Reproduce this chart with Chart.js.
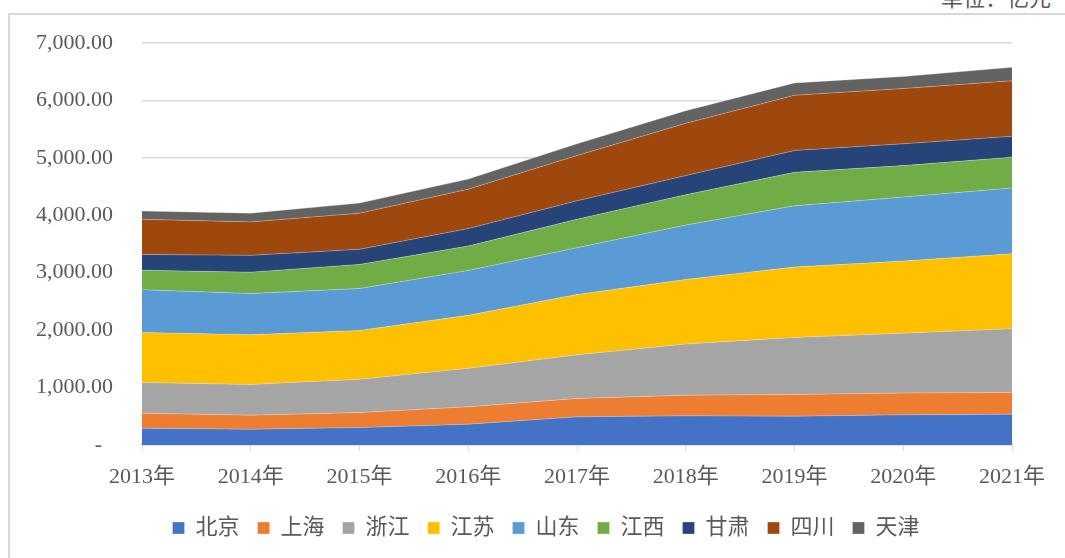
<!DOCTYPE html>
<html>
<head>
<meta charset="utf-8">
<script src="https://cdn.jsdelivr.net/npm/chart.js@4.4.1/dist/chart.umd.min.js"></script>
<style>
  html, body { margin: 0; padding: 0; background: #fff; overflow: hidden; }
  #wrap { position: relative; width: 1065px; height: 558px; }
  #frame { position: absolute; left: 8px; top: 13px; width: 1100px; height: 600px;
           border-left: 2px solid #d9d9d9; border-top: 2px solid #d9d9d9; }
  #unit { position: absolute; right: 14px; top: -20px; font: 22px "Liberation Serif", "Noto Sans CJK SC", serif; color: #595959; }
  canvas { position: absolute; left: 0; top: 0; }
</style>
</head>
<body>
<div id="wrap">
  <div id="frame"></div>
  <div id="unit">单位：亿元</div>
  <canvas id="chart" width="1065" height="558"></canvas>
</div>
<script>
// categories
const years = ['2013年', '2014年', '2015年', '2016年', '2017年', '2018年', '2019年', '2020年', '2021年'];

// series values (亿元)
const beijing  = [290, 275, 303, 362, 490, 508, 502, 525, 537];
const shanghai = [263, 245, 262, 303, 320, 360, 378, 380, 378];
const zhejiang = [535, 535, 578, 670, 760, 890, 993, 1043, 1110];
const jiangsu  = [870, 865, 852, 923, 1050, 1124, 1225, 1255, 1305];
const shandong = [747, 717, 730, 782, 815, 947, 1067, 1114, 1145];
const jiangxi  = [338, 373, 420, 425, 497, 530, 583, 548, 537];
const gansu    = [275, 292, 262, 303, 320, 332, 380, 380, 363];
const sichuan  = [612, 583, 630, 687, 788, 910, 962, 962, 967];
const tianjin  = [145, 152, 175, 175, 205, 221, 215, 210, 235];

const FONT = '"Liberation Serif", "Noto Sans CJK SC", serif';
const TEXT = '#595959';
const GRID = '#d9d9d9';

const series = [
  ['北京', beijing,  '#4472C4'],
  ['上海', shanghai, '#ED7D31'],
  ['浙江', zhejiang, '#A5A5A5'],
  ['江苏', jiangsu,  '#FFC000'],
  ['山东', shandong, '#5B9BD5'],
  ['江西', jiangxi,  '#70AD47'],
  ['甘肃', gansu,    '#264478'],
  ['四川', sichuan,  '#9E480E'],
  ['天津', tianjin,  '#636363']
];

const datasets = series.map(([name, data, color], i) => ({
  label: name,
  data: data,
  backgroundColor: color,
  borderColor: 'rgba(255,255,255,0.35)',
  borderWidth: 0.8,
  fill: i === 0 ? 'origin' : '-1',
  pointRadius: 0,
  tension: 0
}));

// legend sits a bit right of centre in the original
const legendShift = {
  id: 'legendShift',
  afterLayout(chart) {
    if (chart.legend) { chart.legend.left += 40; chart.legend.right += 40; }
  }
};

new Chart(document.getElementById('chart'), {
  type: 'line',
  data: { labels: years, datasets: datasets },
  plugins: [legendShift],
  options: {
    responsive: false,
    animation: false,
    layout: { padding: { top: 43, right: 53, bottom: 9, left: 0 } },
    plugins: {
      tooltip: { enabled: false },
      legend: {
        position: 'bottom',
        labels: {
          boxWidth: 12, boxHeight: 12, padding: 18,
          color: TEXT, font: { family: FONT, size: 22 }
        }
      }
    },
    scales: {
      x: {
        offset: false,
        grid: { display: true, drawOnChartArea: false, color: GRID, tickLength: 6 },
        border: { color: GRID, width: 1.5 },
        ticks: { color: TEXT, font: { family: FONT, size: 22 }, padding: 13, maxRotation: 0 },
        afterFit: s => { s.height = 54; }
      },
      y: {
        stacked: true,
        min: 0, max: 7000,
        grid: { color: GRID, lineWidth: 1.5, drawTicks: false },
        border: { display: false },
        ticks: {
          stepSize: 1000, padding: 29, color: TEXT,
          font: { family: FONT, size: 22 },
          callback: v => v === 0 ? '-  ' : v.toLocaleString('en-US', { minimumFractionDigits: 2, maximumFractionDigits: 2 })
        },
        afterFit: s => { s.width = 142; }
      }
    }
  }
});
</script>
</body>
</html>
